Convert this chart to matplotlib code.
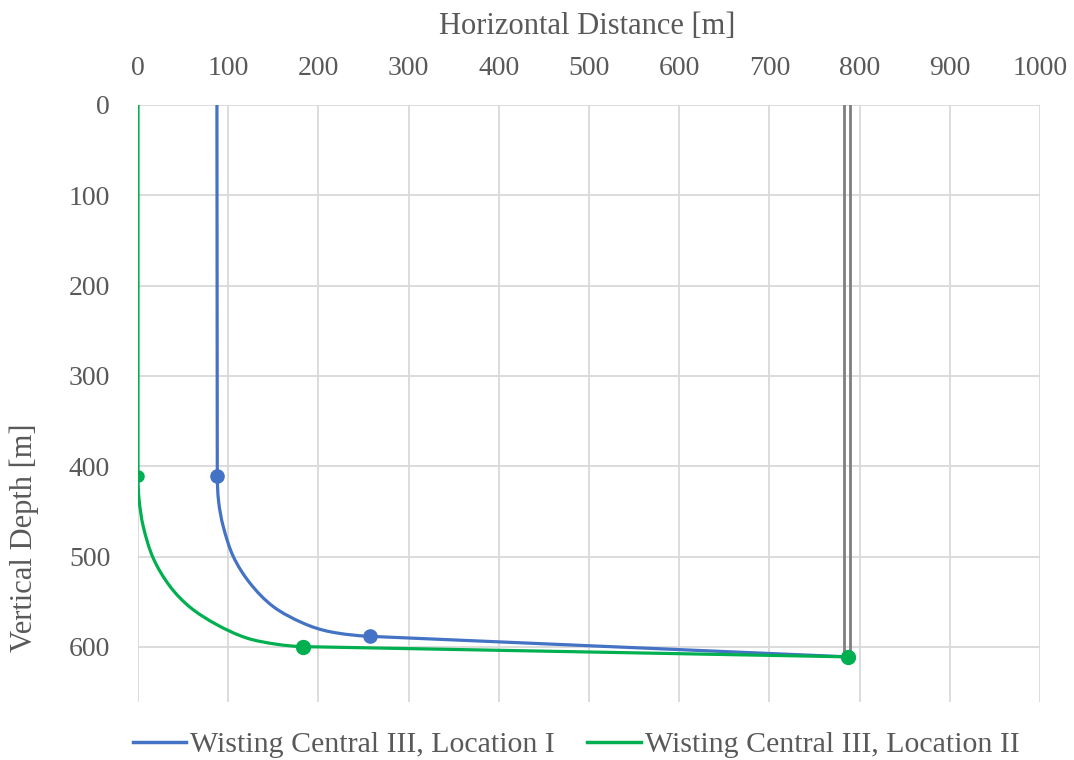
import matplotlib
matplotlib.use("Agg")
import numpy as np
import matplotlib.pyplot as plt
from matplotlib.lines import Line2D
from matplotlib.path import Path
from matplotlib.patches import PathPatch

# ---- data ----
# Location I: vertical section, build curve, then straight tangent section to target
loc1_top = (87.5, 0.0)
loc1_curve_x = [87.9, 89.5, 94.6, 105.7, 124.2, 150.0, 183.3, 212.9, 257.2]
loc1_curve_y = [411.0, 440.0, 467.0, 500.0, 529.5, 555.4, 573.8, 583.2, 588.3]
loc1_end = (787.0, 611.0)
loc1_mark_x = [87.9, 257.2]
loc1_mark_y = [411.0, 588.3]

# Location II
loc2_top = (0.0, 0.0)
loc2_curve_x = [0.0, 1.2, 5.9, 17.0, 35.5, 57.6, 86.7, 120.0, 153.3, 183.0]
loc2_curve_y = [411.0, 437.0, 467.0, 502.0, 533.0, 556.0, 575.0, 590.0, 597.0, 599.7]
loc2_end = (787.0, 611.0)
loc2_kick_x = [0.0]
loc2_kick_y = [411.0]
loc2_mark_x = [183.0, 787.0]
loc2_mark_y = [599.7, 611.0]

# existing well (grey double line)
well_x = [783.0, 789.0]
well_top = [0.0, 0.0]
well_bot = [611.0, 611.0]

x_ticks = [0, 100, 200, 300, 400, 500, 600, 700, 800, 900, 1000]
y_ticks = [0, 100, 200, 300, 400, 500, 600]
series_names = ["Wisting Central III, Location I", "Wisting Central III, Location II"]

BLUE = "#4472C4"
GREEN = "#00B050"
GREY_TXT = "#595959"
GRID = "#D9D9D9"


def well_path(top, cx, cy, end):
    """Vertical line, smooth (Bezier) build curve through the read points, straight line to end."""
    pts = np.column_stack([cx, cy]).astype(float)
    n = len(pts)
    tang = np.zeros_like(pts)
    tang[0] = np.array(pts[0]) - np.array(top)
    tang[-1] = np.array(end) - pts[-1]
    for i in range(1, n - 1):
        tang[i] = pts[i + 1] - pts[i - 1]
    tang = tang / np.linalg.norm(tang, axis=1)[:, None]
    verts = [top, tuple(pts[0])]
    codes = [Path.MOVETO, Path.LINETO]
    for i in range(n - 1):
        L = np.linalg.norm(pts[i + 1] - pts[i]) / 3.0
        c1 = pts[i] + tang[i] * L
        c2 = pts[i + 1] - tang[i + 1] * L
        verts += [tuple(c1), tuple(c2), tuple(pts[i + 1])]
        codes += [Path.CURVE4] * 3
    verts.append(end)
    codes.append(Path.LINETO)
    return Path(verts, codes)


plt.rcParams["font.family"] = ["Liberation Serif", "DejaVu Serif"]

fig = plt.figure(figsize=(10.74, 7.6), dpi=100)
ax = fig.add_axes([138/1074, 1-702/760, (1040-138)/1074, (702-105)/760])

ax.set_xlim(0, 1000)
ax.set_ylim(661, 0)
ax.xaxis.tick_top()
ax.set_xticks(x_ticks)
ax.set_yticks(y_ticks)
ax.grid(True, color=GRID, lw=1.3)
ax.set_axisbelow(True)
for s in ax.spines.values():
    s.set_visible(False)
ax.tick_params(axis="both", length=0, labelsize=20, colors=GREY_TXT)
ax.tick_params(axis="x", pad=17.5)
ax.tick_params(axis="y", pad=20)

for wx, t, b in zip(well_x, well_top, well_bot):
    ax.plot([wx, wx], [t, b], color="#7F7F7F", lw=2.0, zorder=2)

ax.add_patch(PathPatch(well_path(loc1_top, loc1_curve_x, loc1_curve_y, loc1_end),
                       fill=False, edgecolor=BLUE, lw=2.3, zorder=3))
ax.add_patch(PathPatch(well_path(loc2_top, loc2_curve_x, loc2_curve_y, loc2_end),
                       fill=False, edgecolor=GREEN, lw=2.3, zorder=4))
ax.plot(loc1_mark_x, loc1_mark_y, "o", color=BLUE, ms=9.5, zorder=5)
ax.plot(loc2_kick_x, loc2_kick_y, "o", color=GREEN, ms=8, zorder=5)
ax.plot(loc2_mark_x, loc2_mark_y, "o", color=GREEN, ms=10, zorder=6)

fig.text(587/1074, 1-27/760, "Horizontal Distance [m]", ha="center", va="center",
         fontsize=22, color=GREY_TXT)
fig.text(24/1074, 1-538/760, "Vertical Depth [m]", ha="center", va="center",
         rotation=90, fontsize=22, color=GREY_TXT)

handles = [Line2D([0], [0], color=BLUE, lw=2.5), Line2D([0], [0], color=GREEN, lw=2.5)]
fig.legend(handles, series_names, loc="center", bbox_to_anchor=(576/1074, 1-745/760),
           ncol=2, frameon=False, fontsize=21.5, labelcolor=GREY_TXT,
           handlelength=1.8, handletextpad=0.12, columnspacing=1.1)

fig.savefig("out.png", dpi=100)
